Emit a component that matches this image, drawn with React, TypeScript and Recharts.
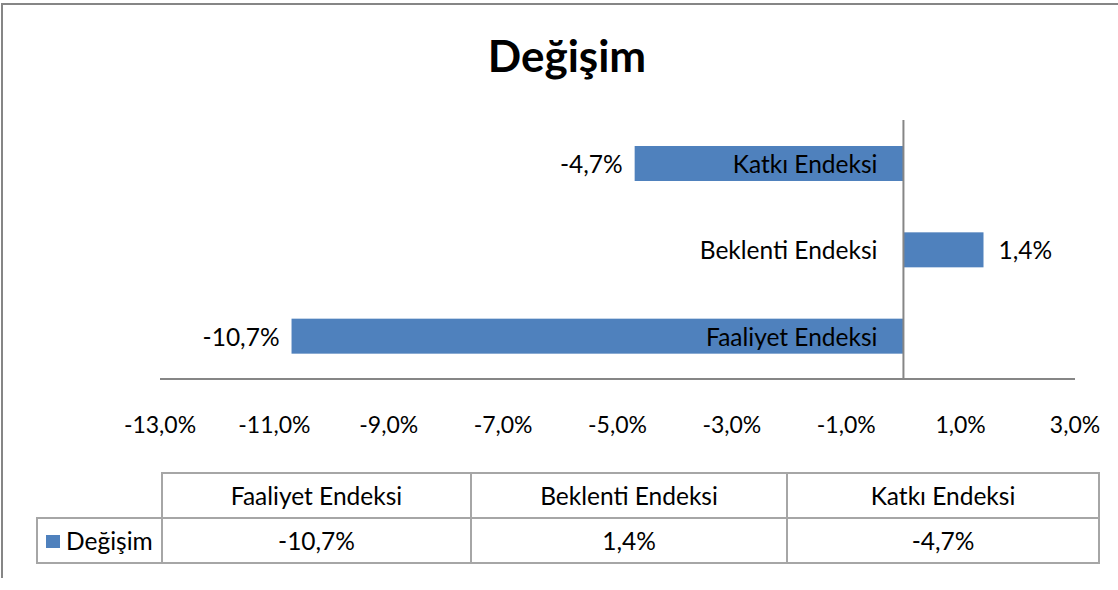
import React from 'react';
import { BarChart, Bar, XAxis, YAxis, ReferenceLine } from 'recharts';

const categories = ['Faaliyet Endeksi', 'Beklenti Endeksi', 'Katkı Endeksi'];
const changeValues = [-10.7, 1.4, -4.7];
const xTicks = [-13, -11, -9, -7, -5, -3, -1, 1, 3];
const seriesName = 'Değişim';

const data = categories.map((name, i) => ({ name, value: changeValues[i] }));

const BLUE = '#4F81BD';
const AXIS = '#868686';
const FONT = 'Lato, "Liberation Sans", sans-serif';
const LABEL_SIZE = 24.5;

const fmt = (v: number) => `${v.toFixed(1).replace('.', ',')}%`;

// bar plus its two labels (category name at the zero line, value at the bar end)
const BarWithLabels = (props: any) => {
  const { x, y, width, height, payload, fill } = props;
  const left = Math.min(x, x + width);
  const right = Math.max(x, x + width);
  const v = payload.value;
  const zero = v < 0 ? right : left;
  const cy = y + height / 2;
  return (
    <g>
      <rect x={left} y={y} width={right - left} height={height} fill={fill} />
      <text x={zero - 26} y={cy} textAnchor="end" dominantBaseline="central" fontSize={LABEL_SIZE} fill="#000">
        {payload.name}
      </text>
      <text
        x={v < 0 ? left - 12 : right + 15}
        y={cy}
        textAnchor={v < 0 ? 'end' : 'start'}
        dominantBaseline="central"
        fontSize={LABEL_SIZE}
        fill="#000"
      >
        {fmt(v)}
      </text>
    </g>
  );
};

const cell: React.CSSProperties = {
  border: '2px solid #a6a6a6',
  textAlign: 'center',
  padding: 0,
  height: 43,
  fontSize: LABEL_SIZE,
  color: '#000',
};

const colWidths = [307, 314, 310];

export default function App() {
  return (
    <div style={{ position: 'absolute', left: 0, top: 0, width: 1118, height: 590, background: '#fff', fontFamily: FONT }}>
      {/* chart frame (only top and left edges visible) */}
      <div style={{ position: 'absolute', left: 1, top: 3, width: 1117, height: 2, background: AXIS }} />
      <div style={{ position: 'absolute', left: 1, top: 3, width: 2, height: 575, background: AXIS }} />

      <div style={{ position: 'absolute', left: 0, top: 33, width: 1134, textAlign: 'center', fontSize: 44, lineHeight: '44px', fontWeight: 700 }}>
        {seriesName}
      </div>

      <div style={{ position: 'absolute', left: 0, top: 0 }}>
        <BarChart width={1118} height={470} data={data} layout="vertical" margin={{ top: 120, right: 43, left: 160, bottom: 31 }}>
          <XAxis
            type="number"
            domain={[-13, 3]}
            ticks={xTicks}
            interval={0}
            tickFormatter={fmt}
            height={60}
            tickLine={false}
            tickSize={0}
            tickMargin={38}
            axisLine={{ stroke: AXIS, strokeWidth: 2 }}
            tick={{ fill: '#000', fontSize: 23 }}
          />
          <YAxis type="category" dataKey="name" reversed hide />
          <ReferenceLine x={0} stroke={AXIS} strokeWidth={2} />
          <Bar dataKey="value" fill={BLUE} barSize={35} isAnimationActive={false} shape={BarWithLabels} />
        </BarChart>
      </div>

      <table style={{ position: 'absolute', left: 36, top: 472, borderCollapse: 'collapse', tableLayout: 'fixed', fontFamily: FONT }}>
        <tbody>
          <tr>
            <td style={{ ...cell, width: 124, border: 'none', borderBottom: '2px solid #a6a6a6' }} />
            {categories.map((c, i) => (
              <td key={c} style={{ ...cell, width: colWidths[i] }}>{c}</td>
            ))}
          </tr>
          <tr>
            <td style={{ ...cell, textAlign: 'left', paddingLeft: 8, whiteSpace: 'nowrap' }}>
              <span style={{ display: 'inline-block', width: 14, height: 13, background: BLUE, marginRight: 6, verticalAlign: 'middle', position: 'relative', top: -2 }} />
              {seriesName}
            </td>
            {changeValues.map((v, i) => (
              <td key={i} style={cell}>{fmt(v)}</td>
            ))}
          </tr>
        </tbody>
      </table>
    </div>
  );
}
